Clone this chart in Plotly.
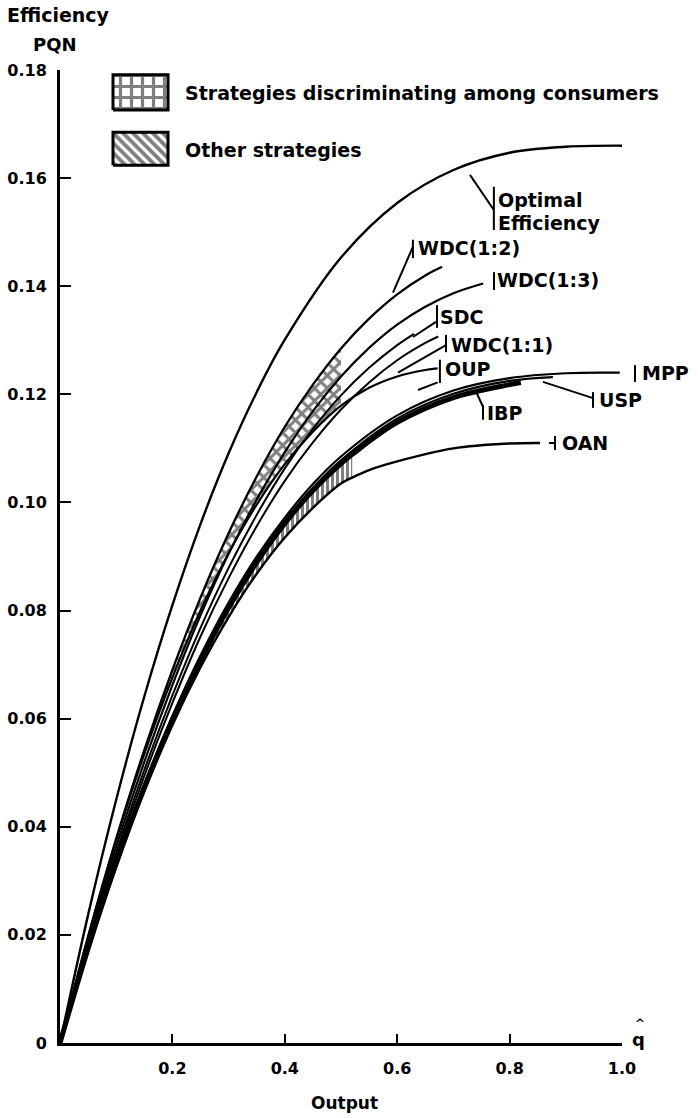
import plotly.graph_objects as go

# ---------------- data ----------------
opt_x = [0, 0.05, 0.1, 0.15, 0.2, 0.25, 0.3, 0.35, 0.4, 0.5, 0.6, 0.7, 0.8, 0.9, 1.0]
opt_y = [0, 0.0237, 0.0450, 0.0641, 0.0810, 0.0960, 0.1091, 0.1204, 0.1301, 0.1453, 0.1554, 0.1615, 0.1647, 0.1658, 0.1660]

wdc12_x = [0, 0.05, 0.1, 0.15, 0.2, 0.25, 0.3, 0.35, 0.4, 0.45, 0.5, 0.55, 0.6, 0.65, 0.68]
wdc12_y = [0, 0.0197, 0.0378, 0.0542, 0.0690, 0.0824, 0.0943, 0.1048, 0.1140, 0.1218, 0.1285, 0.1340, 0.1385, 0.1420, 0.1436]

wdc13_x = [0, 0.05, 0.1, 0.15, 0.2, 0.25, 0.3, 0.35, 0.4, 0.45, 0.5, 0.55, 0.6, 0.65, 0.7, 0.753]
wdc13_y = [0, 0.0189, 0.0363, 0.0520, 0.0662, 0.0791, 0.0905, 0.1005, 0.1093, 0.1169, 0.1233, 0.1286, 0.1329, 0.1362, 0.1387, 0.1405]

sdc_x = [0, 0.05, 0.1, 0.15, 0.2, 0.25, 0.3, 0.35, 0.4, 0.45, 0.5, 0.55, 0.6, 0.63]
sdc_y = [0, 0.0184, 0.0352, 0.0505, 0.0643, 0.0768, 0.0879, 0.0977, 0.1063, 0.1136, 0.1198, 0.1249, 0.1291, 0.1312]

wdc11_x = [0, 0.05, 0.1, 0.15, 0.2, 0.25, 0.3, 0.35, 0.4, 0.45, 0.5, 0.55, 0.6, 0.65, 0.673]
wdc11_y = [0, 0.0180, 0.0345, 0.0494, 0.0629, 0.0752, 0.0860, 0.0956, 0.1040, 0.1111, 0.1172, 0.1222, 0.1263, 0.1295, 0.1307]

oup_x = [0, 0.05, 0.1, 0.15, 0.2, 0.25, 0.3, 0.35, 0.4, 0.45, 0.5, 0.55, 0.6, 0.65, 0.672]
oup_y = [0, 0.0196, 0.0375, 0.0535, 0.0676, 0.0800, 0.0906, 0.0996, 0.1071, 0.1131, 0.1179, 0.1212, 0.1233, 0.1245, 0.1248]

mpp_x = [0, 0.05, 0.1, 0.15, 0.2, 0.25, 0.3, 0.35, 0.4, 0.45, 0.5, 0.6, 0.7, 0.8, 0.9, 0.996]
mpp_y = [0, 0.0177, 0.0336, 0.0479, 0.0605, 0.0717, 0.0815, 0.0900, 0.0972, 0.1034, 0.1085, 0.1161, 0.1207, 0.1230, 0.1239, 0.1240]

usp_x = [0, 0.05, 0.1, 0.15, 0.2, 0.25, 0.3, 0.35, 0.4, 0.45, 0.5, 0.6, 0.7, 0.8, 0.877]
usp_y = [0, 0.0176, 0.0334, 0.0476, 0.0601, 0.0712, 0.0809, 0.0894, 0.0966, 0.1027, 0.1078, 0.1155, 0.1201, 0.1225, 0.1232]

ibp_x = [0, 0.05, 0.1, 0.15, 0.2, 0.25, 0.3, 0.35, 0.4, 0.45, 0.5, 0.52, 0.6, 0.7, 0.8, 0.82]
ibp_y = [0, 0.0175, 0.0332, 0.0473, 0.0598, 0.0708, 0.0805, 0.0889, 0.0961, 0.1022, 0.1072, 0.1089, 0.1148, 0.1194, 0.1218, 0.1222]

oan_x = [0, 0.05, 0.1, 0.15, 0.2, 0.25, 0.3, 0.35, 0.4, 0.45, 0.5, 0.52, 0.55, 0.6, 0.7, 0.8, 0.854]
oan_y = [0, 0.0172, 0.0327, 0.0465, 0.0588, 0.0695, 0.0788, 0.0868, 0.0935, 0.0990, 0.1035, 0.1046, 0.1060, 0.1076, 0.1100, 0.1109, 0.1110]

disc_end = 0.5    # crosshatched zone: discriminating strategies up to this output
other_end = 0.52  # hatched zone: other strategies up to this output

x_ticks = [0.2, 0.4, 0.6, 0.8, 1.0]
x_ticktext = ["0.2", "0.4", "0.6", "0.8", "1.0"]
y_ticks = [0, 0.02, 0.04, 0.06, 0.08, 0.10, 0.12, 0.14, 0.16, 0.18]
y_ticktext = ["0", "0.02", "0.04", "0.06", "0.08", "0.10", "0.12", "0.14", "0.16", "0.18"]

legend_labels = ["Strategies discriminating among consumers", "Other strategies"]

FONT = "DejaVu Sans"
fig = go.Figure()

# ---- pattern bands ----
def band(xu, yu, xl, yl, xmax):
    ux = [a for a in xu if a <= xmax + 1e-9]
    uy = yu[:len(ux)]
    lx = [a for a in xl if a <= xmax + 1e-9]
    ly = yl[:len(lx)]
    return ux + lx[::-1], uy + ly[::-1]

bx, by = band(wdc12_x, wdc12_y, oup_x, oup_y, disc_end)
fig.add_trace(go.Scatter(x=bx, y=by, mode="lines", fill="toself", line=dict(width=0),
                         fillcolor="white",
                         fillpattern=dict(shape="x", size=9, solidity=0.55, fgcolor="black", bgcolor="white"),
                         hoverinfo="skip"))
hx, hy = band(ibp_x, ibp_y, oan_x, oan_y, other_end)
fig.add_trace(go.Scatter(x=hx, y=hy, mode="lines", fill="toself", line=dict(width=0),
                         fillcolor="white",
                         fillpattern=dict(shape="|", size=5, solidity=0.6, fgcolor="black", bgcolor="white"),
                         hoverinfo="skip"))

# ---- curves ----
curves = [
    (opt_x, opt_y, 2.4), (wdc12_x, wdc12_y, 2.3), (wdc13_x, wdc13_y, 2.2), (sdc_x, sdc_y, 2),
    (wdc11_x, wdc11_y, 2), (oup_x, oup_y, 2.2), (mpp_x, mpp_y, 2.2), (usp_x, usp_y, 2.2),
    (ibp_x, ibp_y, 5), (oan_x, oan_y, 2.4),
]
for cx, cy, w in curves:
    fig.add_trace(go.Scatter(x=cx, y=cy, mode="lines", line=dict(color="black", width=w, shape="spline", smoothing=1),
                             hoverinfo="skip"))

# ---- custom legend swatches (top-left of plot) ----
def box(x0, x1, y0, y1):
    return [x0, x1, x1, x0, x0], [y0, y0, y1, y1, y0]
lx, ly = box(0.0943, 0.1922, 0.1726, 0.1791)
fig.add_trace(go.Scatter(x=lx, y=ly, mode="lines", fill="toself", line=dict(color="black", width=3),
                         fillcolor="white",
                         fillpattern=dict(shape="+", size=11, solidity=0.5, fgcolor="black", bgcolor="white"),
                         hoverinfo="skip"))
lx, ly = box(0.0943, 0.1922, 0.1624, 0.1685)
fig.add_trace(go.Scatter(x=lx, y=ly, mode="lines", fill="toself", line=dict(color="black", width=3),
                         fillcolor="white",
                         fillpattern=dict(shape="\\", size=7, solidity=0.55, fgcolor="black", bgcolor="white"),
                         hoverinfo="skip"))

ann = []
def text(x, y, s, size=19, xanchor="left", xref="paper", yref="y"):
    ann.append(dict(x=x, y=y, xref=xref, yref=yref, text=s, showarrow=False, xanchor=xanchor, yanchor="middle",
                    font=dict(family=FONT, size=size, color="black", weight="bold")))

text(0.2189, 0.1758, legend_labels[0])
text(0.2189, 0.1652, legend_labels[1])

# curve labels
text(0.775, 0.1560, "Optimal")
text(0.775, 0.1517, "Efficiency")
text(0.633, 0.1471, "WDC(1:2)")
text(0.774, 0.1412, "WDC(1:3)")
text(0.672, 0.1343, "SDC")
text(0.693, 0.1291, "WDC(1:1)")
text(0.681, 0.1247, "OUP")
text(1.032, 0.1240, "MPP")
text(0.955, 0.1190, "USP")
text(0.756, 0.1166, "IBP")
text(0.889, 0.1110, "OAN")

shapes = []
def seg(x0, y0, x1, y1, w=2):
    shapes.append(dict(type="line", xref="paper", yref="y", x0=x0, y0=y0, x1=x1, y1=y1,
                       line=dict(color="black", width=w)))

# label bars and leaders
seg(0.772, 0.1584, 0.772, 0.1504); seg(0.7295, 0.1606, 0.772, 0.1541)
seg(0.628, 0.1486, 0.628, 0.1452); seg(0.5925, 0.1388, 0.628, 0.1473)
seg(0.7722, 0.1426, 0.7722, 0.1393)
seg(0.6708, 0.1365, 0.6708, 0.1323); seg(0.628, 0.1306, 0.669, 0.1334)
seg(0.6868, 0.1310, 0.6868, 0.1278); seg(0.6014, 0.1240, 0.6868, 0.1291)
seg(0.676, 0.1264, 0.676, 0.1221); seg(0.637, 0.1208, 0.672, 0.1222)
seg(1.0231, 0.1254, 1.0231, 0.1223)
seg(0.9484, 0.1204, 0.9484, 0.1175); seg(0.8594, 0.1223, 0.9484, 0.1193)
seg(0.7527, 0.1180, 0.7527, 0.1153); seg(0.742, 0.1201, 0.7527, 0.1177)
seg(0.8808, 0.1123, 0.8808, 0.1097); seg(0.870, 0.1110, 0.8808, 0.1110)

# axis titles and q-hat
ann.append(dict(x=-0.0979, y=1.0565, xref="paper", yref="paper", text="Efficiency", showarrow=False,
                xanchor="left", yanchor="middle", font=dict(family=FONT, size=19, color="black", weight="bold")))
ann.append(dict(x=-0.0089, y=1.0257, xref="paper", yref="paper", text="PQN", showarrow=False,
                xanchor="center", yanchor="middle", font=dict(family=FONT, size=18, color="black", weight="bold")))
ann.append(dict(x=0.507, y=-0.0617, xref="paper", yref="paper", text="Output", showarrow=False,
                xanchor="center", yanchor="middle", font=dict(family=FONT, size=17, color="black", weight="bold")))
ann.append(dict(x=1.03, y=0.0035, xref="paper", yref="paper", text="q", showarrow=False,
                xanchor="center", yanchor="middle", font=dict(family=FONT, size=18, color="black", weight="bold")))
ann.append(dict(x=1.032, y=0.020, xref="paper", yref="paper", text="^", showarrow=False,
                xanchor="center", yanchor="middle", font=dict(family=FONT, size=12, color="black", weight="bold")))

fig.update_layout(
    width=698, height=1118, margin=dict(l=60, r=76, t=70, b=75, autoexpand=False),
    plot_bgcolor="white", paper_bgcolor="white", showlegend=False,
    font=dict(family=FONT, color="black"),
    annotations=ann, shapes=shapes,
    xaxis=dict(range=[0, 1.0], showline=True, linecolor="black", linewidth=3, ticks="inside", ticklen=9,
               tickwidth=2, tickcolor="black", tickvals=x_ticks, ticktext=x_ticktext, showgrid=False,
               zeroline=False, ticklabelstandoff=9, automargin=False,
               tickfont=dict(family=FONT, size=16, color="black", weight="bold")),
    yaxis=dict(range=[0, 0.18], showline=True, linecolor="black", linewidth=3, ticks="inside", ticklen=11,
               tickwidth=2, tickcolor="black", tickvals=y_ticks, ticktext=y_ticktext, showgrid=False,
               zeroline=False, ticklabelstandoff=7, automargin=False,
               tickfont=dict(family=FONT, size=16, color="black", weight="bold")),
)

fig.write_html("out.html")
